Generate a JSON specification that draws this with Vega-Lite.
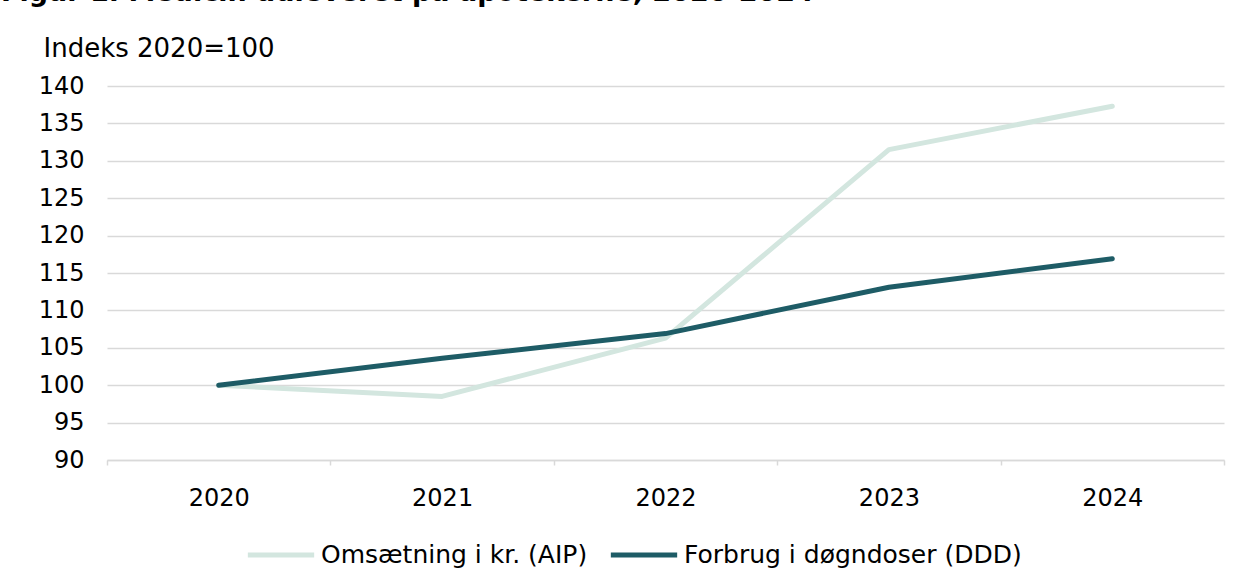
{
  "$schema": "https://vega.github.io/schema/vega-lite/v6.json",
  "autosize": {"type": "none"},
  "width": 1117,
  "height": 374,
  "padding": {"left": 107, "top": 86, "right": 25, "bottom": 116},
  "background": "white",
  "title": {
    "text": "Figur 1. Medicin udleveret på apotekerne, 2020-2024",
    "anchor": "start",
    "frame": "group",
    "offset": 0,
    "baseline": "alphabetic",
    "dx": -106,
    "dy": -7,
    "font": "DejaVu Sans",
    "fontSize": 27,
    "fontWeight": "bold",
    "color": "#000000"
  },
  "data": {
    "values": [
      {"year": "2020", "series": "Omsætning i kr. (AIP)", "value": 100},
      {"year": "2021", "series": "Omsætning i kr. (AIP)", "value": 98.5},
      {"year": "2022", "series": "Omsætning i kr. (AIP)", "value": 106.3},
      {"year": "2023", "series": "Omsætning i kr. (AIP)", "value": 131.5},
      {"year": "2024", "series": "Omsætning i kr. (AIP)", "value": 137.3},
      {"year": "2020", "series": "Forbrug i døgndoser (DDD)", "value": 100},
      {"year": "2021", "series": "Forbrug i døgndoser (DDD)", "value": 103.6},
      {"year": "2022", "series": "Forbrug i døgndoser (DDD)", "value": 106.9},
      {"year": "2023", "series": "Forbrug i døgndoser (DDD)", "value": 113.1},
      {"year": "2024", "series": "Forbrug i døgndoser (DDD)", "value": 116.9}
    ]
  },
  "encoding": {
    "x": {
      "field": "year",
      "type": "ordinal",
      "title": null,
      "scale": {"type": "band", "paddingInner": 0, "paddingOuter": 0},
      "axis": {
        "labelAngle": 0,
        "tickBand": "extent",
        "domainColor": "#d9d9d9",
        "domainWidth": 1.5,
        "tickColor": "#d9d9d9",
        "tickWidth": 1.5,
        "tickSize": 5,
        "labelPadding": 21,
        "labelFont": "DejaVu Sans",
        "labelFontSize": 24,
        "labelColor": "#000000",
        "grid": false
      }
    },
    "y": {
      "field": "value",
      "type": "quantitative",
      "scale": {"domain": [90, 140], "nice": false, "zero": false},
      "axis": {
        "values": [90, 95, 100, 105, 110, 115, 120, 125, 130, 135, 140],
        "title": "Indeks 2020=100",
        "titleAngle": 0,
        "titleAlign": "left",
        "titleBaseline": "alphabetic",
        "titleX": -64,
        "titleY": -30,
        "titleFont": "DejaVu Sans",
        "titleFontSize": 26,
        "titleFontWeight": "normal",
        "titleColor": "#000000",
        "ticks": false,
        "domain": false,
        "labelPadding": 23,
        "labelFont": "DejaVu Sans",
        "labelFontSize": 24,
        "labelColor": "#000000",
        "gridColor": "#d9d9d9",
        "gridWidth": 1.5
      }
    },
    "color": {
      "field": "series",
      "type": "nominal",
      "scale": {
        "domain": ["Omsætning i kr. (AIP)", "Forbrug i døgndoser (DDD)"],
        "range": ["#d3e6df", "#1e5c66"]
      },
      "legend": {
        "title": null,
        "orient": "none",
        "direction": "horizontal",
        "legendX": 138,
        "legendY": 433,
        "symbolType": "stroke",
        "symbolSize": 4400,
        "symbolStrokeWidth": 5,
        "labelFont": "DejaVu Sans",
        "labelFontSize": 25,
        "labelColor": "#000000",
        "labelOffset": 4,
        "columnPadding": 12,
        "padding": 0,
        "labelLimit": 400
      }
    }
  },
  "layer": [
    {
      "transform": [{"filter": "datum.series === 'Omsætning i kr. (AIP)'"}],
      "mark": {"type": "line", "strokeWidth": 5, "strokeCap": "round", "strokeJoin": "round"}
    },
    {
      "transform": [{"filter": "datum.series === 'Forbrug i døgndoser (DDD)'"}],
      "mark": {"type": "line", "strokeWidth": 5, "strokeCap": "round", "strokeJoin": "round"}
    }
  ],
  "config": {
    "view": {"stroke": null},
    "font": "DejaVu Sans"
  }
}
